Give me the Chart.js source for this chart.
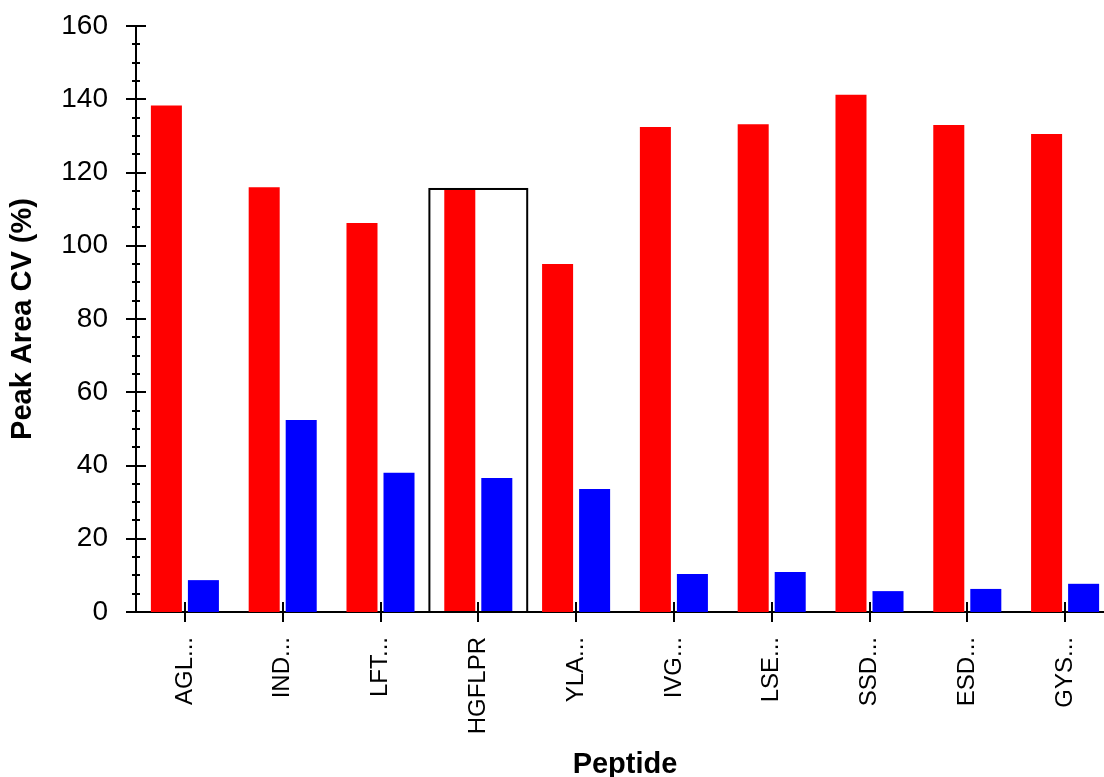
<!DOCTYPE html>
<html>
<head>
<meta charset="utf-8">
<script src="https://cdn.jsdelivr.net/npm/chart.js@4.4.0/dist/chart.umd.min.js"></script>
<style>
  html, body { margin: 0; padding: 0; background: #fff; overflow: hidden; }
  #wrap { width: 1114px; height: 777px; }
</style>
</head>
<body>
<div id="wrap"><canvas id="cvChart" width="1114" height="777"></canvas></div>
<script>
        const peptides = ['AGL...', 'IND...', 'LFT...', 'HGFLPR', 'YLA...', 'IVG...', 'LSE...', 'SSD...', 'ESD...', 'GYS...'];
        const redValues = [138.3, 116.0, 106.2, 115.5, 95.0, 132.4, 133.2, 141.2, 133.0, 130.5];
        const blueValues = [8.7, 52.4, 38.0, 36.6, 33.6, 10.4, 10.9, 5.7, 6.3, 7.7];
        const selectedIndex = 3;

        const fontFamily = '"Liberation Sans", Arial, sans-serif';

        // axis tick marks + selection box, drawn from the scales
        const marksPlugin = {
            id: 'marks',
            afterDatasetsDraw(chart) {
                const c = chart.ctx;
                const x = chart.scales.x;
                const y = chart.scales.y;
                const area = chart.chartArea;
                c.save();
                c.strokeStyle = '#000';
                c.lineWidth = 2;

                // selection rectangle
                const half = (x.getPixelForValue(1) - x.getPixelForValue(0)) / 2;
                const cx = x.getPixelForValue(selectedIndex);
                const top = y.getPixelForValue(Math.max(redValues[selectedIndex], blueValues[selectedIndex]));
                c.strokeRect(cx - half, top, half * 2, area.bottom - top);

                // y ticks
                for (let v = 0; v <= 160; v += 5) {
                    const py = Math.round(y.getPixelForValue(v));
                    c.beginPath();
                    if (v % 20 === 0) { c.moveTo(area.left - 10, py); c.lineTo(area.left + 10, py); }
                    else { c.moveTo(area.left - 4, py); c.lineTo(area.left + 4, py); }
                    c.stroke();
                }
                // x ticks
                peptides.forEach((p, i) => {
                    const px = Math.round(x.getPixelForValue(i));
                    c.beginPath();
                    c.moveTo(px, area.bottom - 10);
                    c.lineTo(px, area.bottom + 10);
                    c.stroke();
                });
                c.restore();
            }
        };

        const ctx = document.getElementById('cvChart').getContext('2d');
        const chart = new Chart(ctx, {
            type: 'bar',
            data: {
                labels: peptides,
                datasets: [
                    { label: 'Red', data: redValues, backgroundColor: '#ff0000' },
                    { label: 'Blue', data: blueValues, backgroundColor: '#0000ff' }
                ]
            },
            options: {
                responsive: false,
                animation: false,
                categoryPercentage: 0.757,
                barPercentage: 0.838,
                layout: { padding: { top: 26, left: 0, right: 0, bottom: 0 } },
                plugins: {
                    legend: { display: false },
                    tooltip: { enabled: false }
                },
                scales: {
                    x: {
                        grid: { display: false, drawTicks: false },
                        border: { display: true, color: '#000', width: 2 },
                        ticks: {
                            autoSkip: false,
                            minRotation: 90,
                            maxRotation: 90,
                            padding: 25,
                            color: '#000',
                            font: { family: fontFamily, size: 24 }
                        },
                        title: {
                            display: true,
                            text: 'Peptide',
                            color: '#000',
                            padding: 0,
                            font: { family: fontFamily, size: 29, weight: 'bold', lineHeight: 0.8 }
                        },
                        afterFit(scale) {
                            scale.height = 165;
                            scale.paddingLeft = 0;
                            scale.paddingRight = 0;
                            scale.paddingTop = 0;
                        }
                    },
                    y: {
                        min: 0,
                        max: 160,
                        grid: { display: false, drawTicks: false },
                        border: { display: true, color: '#000', width: 2 },
                        ticks: {
                            stepSize: 20,
                            padding: 28,
                            color: '#000',
                            font: { family: fontFamily, size: 28 }
                        },
                        title: {
                            display: true,
                            text: 'Peak Area CV (%)',
                            color: '#000',
                            padding: { top: 6, bottom: 0 },
                            font: { family: fontFamily, size: 29, weight: 'bold' }
                        },
                        afterFit(scale) {
                            scale.width = 136;
                            scale.paddingTop = 0;
                            scale.paddingBottom = 0;
                        }
                    }
                }
            },
            plugins: [marksPlugin]
        });
</script>
</body>
</html>
